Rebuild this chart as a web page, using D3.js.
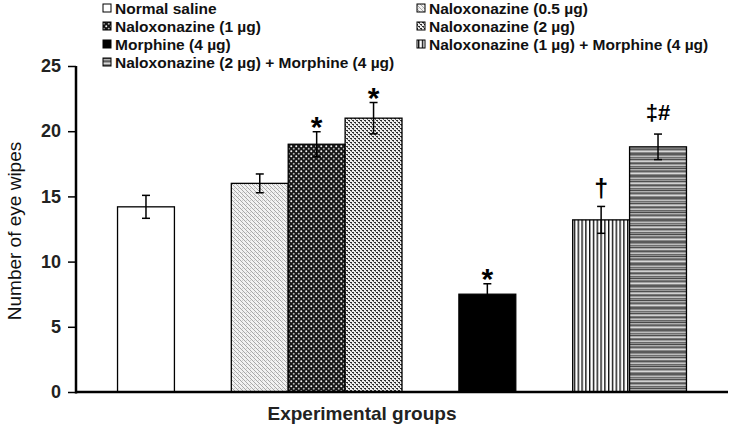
<!DOCTYPE html>
<html>
<head>
<meta charset="utf-8">
<script src="https://cdn.jsdelivr.net/npm/d3@7"></script>
<style>
  html, body { margin: 0; padding: 0; background: #fff; }
  svg { display: block; font-family: "Liberation Sans", Arial, sans-serif; }
</style>
</head>
<body>
<svg id="chart" width="732" height="432"></svg>
<script>
// ---------- data ----------
const categories = [
  "Normal saline",
  "Naloxonazine (0.5 µg)",
  "Naloxonazine (1 µg)",
  "Naloxonazine (2 µg)",
  "Morphine (4 µg)",
  "Naloxonazine (1 µg) + Morphine (4 µg)",
  "Naloxonazine (2 µg) + Morphine (4 µg)"
];
const means  = [14.2, 16.0, 19.0, 21.0, 7.5, 13.2, 18.8];
const errors = [0.88, 0.72, 0.96, 1.2, 0.8, 1.03, 0.98];
const marks  = ["", "", "*", "*", "*", "†", "‡#"];
// experimental groups (indices into categories); a gap separates groups
const groups = [[0], [1, 2, 3], [4], [5, 6]];
const yTicks = [0, 5, 10, 15, 20, 25];
const yTitle = "Number of eye wipes";
const xTitle = "Experimental groups";
const fills  = ["white", "url(#p-nal05)", "url(#p-nal1)", "url(#p-nal2)", "#000", "url(#p-vert)", "url(#p-horiz)"];

// ---------- setup ----------
const svg = d3.select("#chart");
const W = 732, H = 432;
const m = { left: 76, right: 4, top: 66, bottom: 40 };

// patterns
const defs = svg.append("defs");
// Naloxonazine 0.5 : light speckled diagonal
{
  const p = defs.append("pattern").attr("id", "p-nal05").attr("patternUnits", "userSpaceOnUse")
    .attr("width", 4).attr("height", 4);
  p.append("rect").attr("width", 4).attr("height", 4).attr("fill", "#f2f2f2");
  [[0,0],[1,1],[2,2],[3,3]].forEach(([x,y]) =>
    p.append("rect").attr("x", x).attr("y", y).attr("width", 1).attr("height", 1).attr("fill", "#a8a8a8"));
  p.append("rect").attr("x", 2).attr("y", 0).attr("width", 1).attr("height", 1).attr("fill", "#d0d0d0");
}
// Naloxonazine 1 : dark with white dots
{
  const p = defs.append("pattern").attr("id", "p-nal1").attr("patternUnits", "userSpaceOnUse")
    .attr("width", 5).attr("height", 5);
  p.append("rect").attr("width", 5).attr("height", 5).attr("fill", "#151515");
  p.append("circle").attr("cx", 1.25).attr("cy", 1.25).attr("r", 1.0).attr("fill", "#f4f4f4");
  p.append("circle").attr("cx", 3.75).attr("cy", 3.75).attr("r", 1.0).attr("fill", "#b5b5b5");
}
// Naloxonazine 2 : medium checker dots
{
  const p = defs.append("pattern").attr("id", "p-nal2").attr("patternUnits", "userSpaceOnUse")
    .attr("width", 4).attr("height", 4);
  p.append("rect").attr("width", 4).attr("height", 4).attr("fill", "#eeeeee");
  p.append("rect").attr("x", 0).attr("y", 0).attr("width", 2).attr("height", 1).attr("fill", "#2a2a2a");
  p.append("rect").attr("x", 2).attr("y", 2).attr("width", 2).attr("height", 1).attr("fill", "#2a2a2a");
  p.append("rect").attr("x", 1).attr("y", 1).attr("width", 1).attr("height", 1).attr("fill", "#6a6a6a");
  p.append("rect").attr("x", 3).attr("y", 3).attr("width", 1).attr("height", 1).attr("fill", "#6a6a6a");
}
// Naloxonazine 1 + Morphine : vertical lines
{
  const p = defs.append("pattern").attr("id", "p-vert").attr("patternUnits", "userSpaceOnUse")
    .attr("width", 3.8).attr("height", 4);
  p.append("rect").attr("width", 3.8).attr("height", 4).attr("fill", "#fff");
  p.append("rect").attr("x", 0).attr("width", 1.4).attr("height", 4).attr("fill", "#111");
}
// Naloxonazine 2 + Morphine : horizontal grey stripes
{
  const shades = ["#5a5a5a","#8a8a8a","#bdbdbd","#6e6e6e","#9a9a9a","#4f4f4f","#a8a8a8","#d0d0d0",
                  "#777","#555","#999","#c4c4c4","#666","#8f8f8f","#4a4a4a","#b0b0b0",
                  "#7c7c7c","#5f5f5f","#a0a0a0","#d8d8d8","#888","#5a5a5a"];
  const p = defs.append("pattern").attr("id", "p-horiz").attr("patternUnits", "userSpaceOnUse")
    .attr("width", 4).attr("height", shades.length);
  shades.forEach((c, i) => p.append("rect").attr("x", 0).attr("y", i).attr("width", 4).attr("height", 1).attr("fill", c));
}

// x domain: categories with gap slots between groups
const xDomain = [];
groups.forEach((g, gi) => {
  if (gi > 0) xDomain.push("gap" + gi);
  g.forEach(i => xDomain.push(categories[i]));
});
const x = d3.scaleBand().domain(xDomain).range([m.left, W - m.right]).paddingInner(0).paddingOuter(0.73);
const y = d3.scaleLinear().domain([0, 25]).range([H - m.bottom, m.top]);

const data = categories.map((c, i) => ({ c, v: means[i], e: errors[i], mark: marks[i], fill: fills[i] }));

// bars
svg.append("g").selectAll("rect").data(data).join("rect")
  .attr("x", d => x(d.c))
  .attr("y", d => y(d.v))
  .attr("width", x.bandwidth())
  .attr("height", d => y(0) - y(d.v))
  .attr("fill", d => d.fill)
  .attr("stroke", "#000")
  .attr("stroke-width", 1.3);

// error bars
const eg = svg.append("g").attr("stroke", "#000").attr("stroke-width", 1.5);
data.forEach(d => {
  const cx = x(d.c) + x.bandwidth() / 2;
  eg.append("line").attr("x1", cx).attr("x2", cx).attr("y1", y(d.v + d.e)).attr("y2", y(d.v - d.e));
  eg.append("line").attr("x1", cx - 4).attr("x2", cx + 4).attr("y1", y(d.v + d.e)).attr("y2", y(d.v + d.e));
  eg.append("line").attr("x1", cx - 4).attr("x2", cx + 4).attr("y1", y(d.v - d.e)).attr("y2", y(d.v - d.e));
});

// significance marks
const markStyle = { "*": { dy: 5, size: 30 }, "†": { dy: -9, size: 25 }, "‡#": { dy: -14, size: 22 } };
svg.append("g").selectAll("text").data(data.filter(d => d.mark)).join("text")
  .attr("x", d => x(d.c) + x.bandwidth() / 2)
  .attr("y", d => y(d.v + d.e) + markStyle[d.mark].dy)
  .attr("text-anchor", "middle")
  .attr("font-weight", "bold")
  .attr("font-size", d => markStyle[d.mark].size)
  .attr("fill", "#000")
  .text(d => d.mark);

// y axis
const yAxis = svg.append("g").attr("transform", `translate(${m.left},0)`)
  .call(d3.axisLeft(y).tickValues(yTicks).tickSize(8).tickPadding(7).tickFormat(d3.format("d")));
yAxis.select(".domain").remove();
yAxis.selectAll(".tick line").attr("stroke", "#000").attr("stroke-width", 1.5);
yAxis.selectAll(".tick text").attr("font-size", 18).attr("font-weight", "bold").attr("fill", "#222")
  .attr("font-family", "'Liberation Sans', Arial, sans-serif");
svg.append("line").attr("x1", m.left).attr("x2", m.left).attr("y1", y(25)).attr("y2", y(0) + 1.5)
  .attr("stroke", "#000").attr("stroke-width", 2.5);
// x axis line
svg.append("line").attr("x1", m.left).attr("x2", W - m.right).attr("y1", y(0)).attr("y2", y(0))
  .attr("stroke", "#000").attr("stroke-width", 2.5);

// axis titles
svg.append("text").attr("transform", `translate(21,${(y(0) + y(25)) / 2 + 2}) rotate(-90)`)
  .attr("text-anchor", "middle").attr("font-size", 19).attr("fill", "#111").text(yTitle);
svg.append("text").attr("x", 362).attr("y", 420).attr("text-anchor", "middle")
  .attr("font-size", 19).attr("font-weight", "bold").attr("fill", "#222").text(xTitle);

// legend (two columns, row-major)
const legCols = [103, 417], legRow0 = 8, legRowH = 18;
const lg = svg.append("g");
data.forEach((d, i) => {
  const col = i % 2, row = Math.floor(i / 2);
  const lx = legCols[col], ly = legRow0 + row * legRowH;
  lg.append("rect").attr("x", lx).attr("y", ly - 4).attr("width", 8).attr("height", 8)
    .attr("fill", d.fill).attr("stroke", "#000").attr("stroke-width", 1);
  lg.append("text").attr("x", lx + 12).attr("y", ly + 5.5).attr("font-size", 15.5)
    .attr("font-weight", "bold").attr("fill", "#111").text(d.c);
});
</script>
</body>
</html>
